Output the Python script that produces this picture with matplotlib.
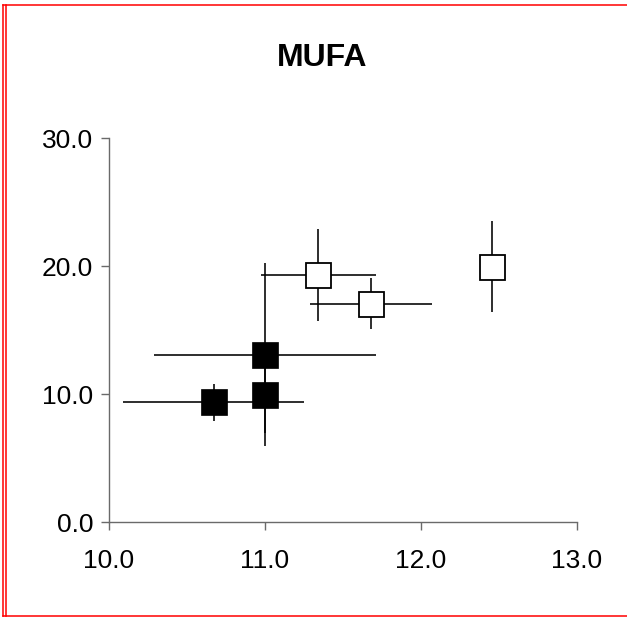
import matplotlib
matplotlib.use("Agg")
import matplotlib.pyplot as plt
from matplotlib.lines import Line2D

plt.rcParams['font.family'] = ['Liberation Sans', 'DejaVu Sans']

# filled squares
filled_x = [10.67, 11.0, 11.0]
filled_y = [9.35, 9.95, 13.05]
filled_xerr = [0.58, 0.05, 0.71]
filled_yerr = [1.46, 3.0, 7.15]

# open squares
open_x = [11.342, 11.678, 12.455]
open_y = [19.3, 17.05, 19.95]
open_xerr = [0.37, 0.39, 0.05]
open_yerr = [3.6, 1.98, 3.55]

xticks = [10.0, 11.0, 12.0, 13.0]
yticks = [0.0, 10.0, 20.0, 30.0]

W, H = 627, 617
fig = plt.figure(figsize=(W / 100, H / 100), dpi=100)
ax = fig.add_axes([109 / W, 1 - 522 / H, 468 / W, 384 / H])

ax.errorbar(filled_x, filled_y, xerr=filled_xerr, yerr=filled_yerr,
            fmt='none', ecolor='black', elinewidth=1.15, capsize=0, zorder=2)
ax.errorbar(open_x, open_y, xerr=open_xerr, yerr=open_yerr,
            fmt='none', ecolor='black', elinewidth=1.15, capsize=0, zorder=2)
ax.plot(filled_x, filled_y, 's', ms=18.5, mfc='black', mec='black',
        mew=0.5, zorder=3)
ax.plot(open_x, open_y, 's', ms=18, mfc='white', mec='black',
        mew=1.3, zorder=3)

ax.set_xlim(10, 13)
ax.set_ylim(0, 30)
ax.set_xticks(xticks)
ax.set_yticks(yticks)
ax.set_xticklabels(["%.1f" % t for t in xticks])
ax.set_yticklabels(["%.1f" % t for t in yticks])

for s in ['top', 'right']:
    ax.spines[s].set_visible(False)
for s in ['left', 'bottom']:
    ax.spines[s].set_color('#6a6a6a')
    ax.spines[s].set_linewidth(1.0)
ax.tick_params(axis='both', direction='out', length=5.5, width=1.0,
               color='#6a6a6a', labelsize=19, labelcolor='black')
ax.tick_params(axis='y', pad=6)
ax.tick_params(axis='x', pad=14)

fig.text(322 / W, 1 - 58 / H, "MUFA", ha='center', va='center',
         fontsize=23, fontweight='bold')

# red frame
red = dict(color='red', lw=1.1, transform=fig.transFigure)
fig.add_artist(Line2D([3 / W, 1], [1 - 4.8 / H, 1 - 4.8 / H], **red))
fig.add_artist(Line2D([3 / W, 1], [1 - 615.5 / H, 1 - 615.5 / H], **red))
fig.add_artist(Line2D([3.3 / W, 3.3 / W], [1 - 4.8 / H, 1 - 615.5 / H], **red))
fig.add_artist(Line2D([5.7 / W, 5.7 / W], [1 - 4.8 / H, 1 - 615.5 / H], **red))

fig.savefig("out.png", dpi=100)
